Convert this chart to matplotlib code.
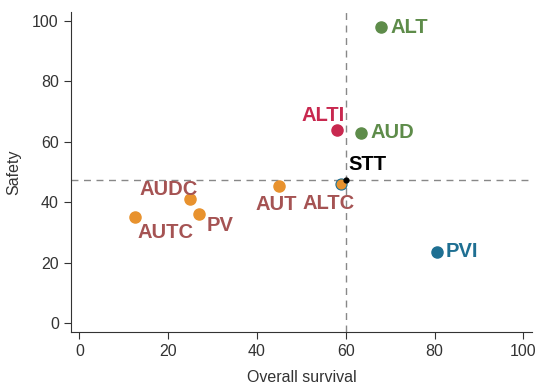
import matplotlib
matplotlib.use('Agg')
import matplotlib.pyplot as plt

plt.rcParams['font.family'] = ['Liberation Sans', 'DejaVu Sans']

# data
names = ['ALT', 'ALTI', 'AUD', 'STT', 'ALTC', 'AUT', 'AUDC', 'PV', 'AUTC', 'PVI']
survival = [68, 58, 63.5, 60, 59, 45, 25, 27, 12.5, 80.5]
safety = [98, 64, 63, 47.5, 46, 45.5, 41, 36, 35, 23.5]
ref_survival = 60
ref_safety = 47.5

green = '#5e8c4a'
red = '#c8284f'
orange = '#e8922e'
brown = '#a55353'
blue = '#1e6f92'

point_colors = [green, red, green, 'black', orange, orange, orange, orange, orange, blue]
text_colors = [green, red, green, 'black', brown, brown, brown, brown, brown, blue]
# label offsets in points (dx, dy, ha, va)
offsets = [(6.5, 0, 'left', 'center'), (6, 3.5, 'right', 'bottom'), (6.5, 0, 'left', 'center'),
           (2, 4, 'left', 'bottom'), (-9, -7, 'center', 'top'), (-2, -7, 'center', 'top'),
           (5, 0, 'right', 'bottom'), (5, -8, 'left', 'center'), (2, -4, 'left', 'top'),
           (6.5, 0, 'left', 'center')]

fig = plt.figure(figsize=(5.43, 3.86), dpi=100)
ax = fig.add_axes([0.13, 0.14, 0.85, 0.829])

ax.axhline(ref_safety, color='#888888', linestyle=(0, (5, 4)), linewidth=1, zorder=1)
ax.axvline(ref_survival, color='#888888', linestyle=(0, (5, 4)), linewidth=1, zorder=1)

for i, name in enumerate(names):
    if name == 'STT':
        ax.scatter(survival[i], safety[i], s=12, color='black', zorder=4)
    elif name == 'ALTC':
        ax.scatter(survival[i], safety[i], s=64, color=orange, edgecolor=blue, linewidth=0.8, zorder=3)
    else:
        ax.scatter(survival[i], safety[i], s=64, color=point_colors[i], zorder=3)
    dx, dy, ha, va = offsets[i]
    ax.annotate(name, (survival[i], safety[i]), xytext=(dx, dy), textcoords='offset points',
                ha=ha, va=va, color=text_colors[i], fontsize=14.5, fontweight='bold')

ax.set_xlim(-2, 102)
ax.set_ylim(-3, 103)
ax.set_xticks([0, 20, 40, 60, 80, 100])
ax.set_yticks([0, 20, 40, 60, 80, 100])
ax.spines['top'].set_visible(False)
ax.spines['right'].set_visible(False)
for s in ['left', 'bottom']:
    ax.spines[s].set_color('#333333')
ax.tick_params(labelsize=11.5, colors='#333333', length=5)
ax.set_xlabel('Overall survival', fontsize=11.5, color='#333333', labelpad=8)
ax.set_ylabel('Safety', fontsize=11.5, color='#333333', labelpad=8)

fig.savefig('out.png', dpi=100)
